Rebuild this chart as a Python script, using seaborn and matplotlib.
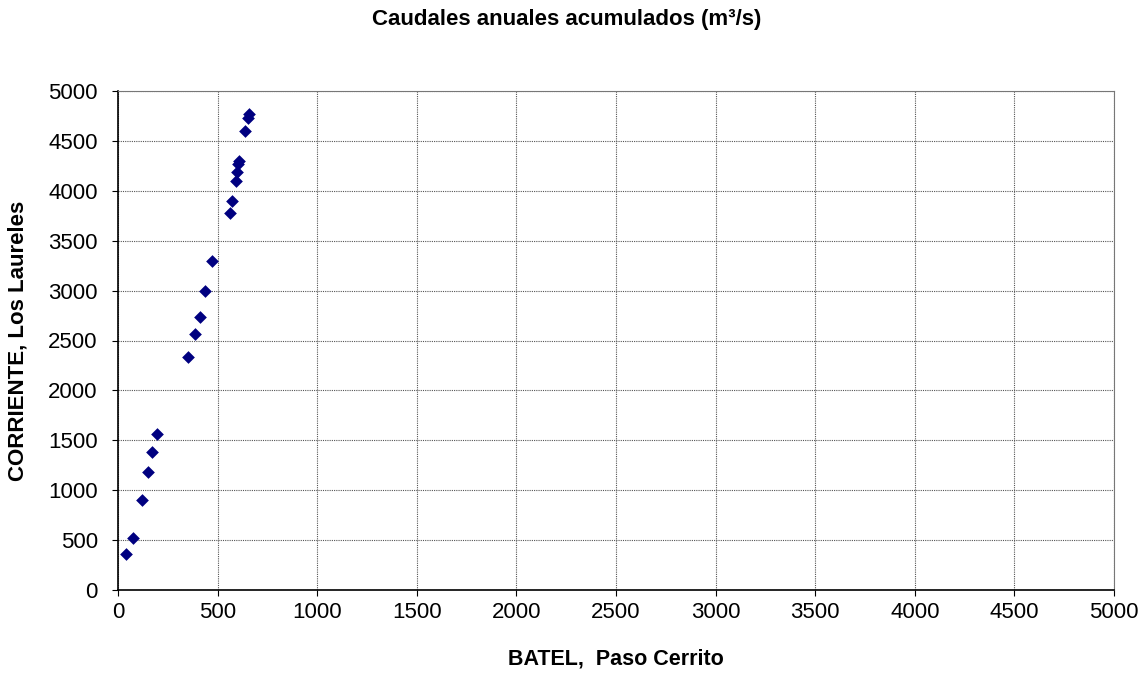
import matplotlib
matplotlib.use("Agg")
import matplotlib.pyplot as plt
import seaborn as sns
import pandas as pd

# Caudales anuales acumulados (m3/s)
batel = [42, 73, 118, 150, 169, 194, 350, 387, 413, 438, 473, 561, 574,
         594, 598, 604, 605, 638, 653, 658]
corriente = [364, 519, 900, 1185, 1386, 1566, 2336, 2570, 2731, 2992, 3293,
             3782, 3896, 4103, 4184, 4267, 4300, 4595, 4726, 4770]

df = pd.DataFrame({'batel': batel, 'corriente': corriente})

sns.set_style("white")
plt.rcParams['font.family'] = ['Liberation Sans', 'DejaVu Sans']
plt.rcParams['text.color'] = 'black'
plt.rcParams['axes.labelcolor'] = 'black'
plt.rcParams['xtick.color'] = 'black'
plt.rcParams['ytick.color'] = 'black'

fig = plt.figure(figsize=(11.45, 6.75), dpi=100)
ax = fig.add_axes([118 / 1145, 1 - 590 / 675, (1114 - 118) / 1145, (590 - 91) / 675])

sns.scatterplot(data=df, x='batel', y='corriente', marker='D', s=42,
                color='#000080', edgecolor='#000080', linewidth=0, ax=ax)

ax.set_xlim(0, 5000)
ax.set_ylim(0, 5000)
ax.set_xticks(range(0, 5001, 500))
ax.set_yticks(range(0, 5001, 500))
ax.grid(True, color='#555555', linestyle=(0, (1, 1)), linewidth=0.8)
ax.tick_params(axis='both', labelsize=16, length=4, direction='out',
               left=True, bottom=True, color='black')
ax.tick_params(axis='y', pad=10.5)
ax.tick_params(axis='x', pad=5)
for side in ['left', 'bottom']:
    ax.spines[side].set_color('black')
    ax.spines[side].set_linewidth(1.2)
for side in ['top', 'right']:
    ax.spines[side].set_color('#777777')
    ax.spines[side].set_linewidth(0.8)

ax.set_xlabel('BATEL,  Paso Cerrito', fontsize=15.5, fontweight='bold')
ax.set_ylabel('CORRIENTE, Los Laureles', fontsize=16, fontweight='bold')
ax.xaxis.set_label_coords(0.5, -(649 - 590) / (590 - 91))
ax.yaxis.set_label_coords(-(118 - 29) / (1114 - 118), 0.5)
fig.text(567 / 1145, 1 - 19 / 675, 'Caudales anuales acumulados (m³/s)',
         ha='center', va='center', fontsize=16, fontweight='bold')

fig.savefig('out.png', dpi=100)
